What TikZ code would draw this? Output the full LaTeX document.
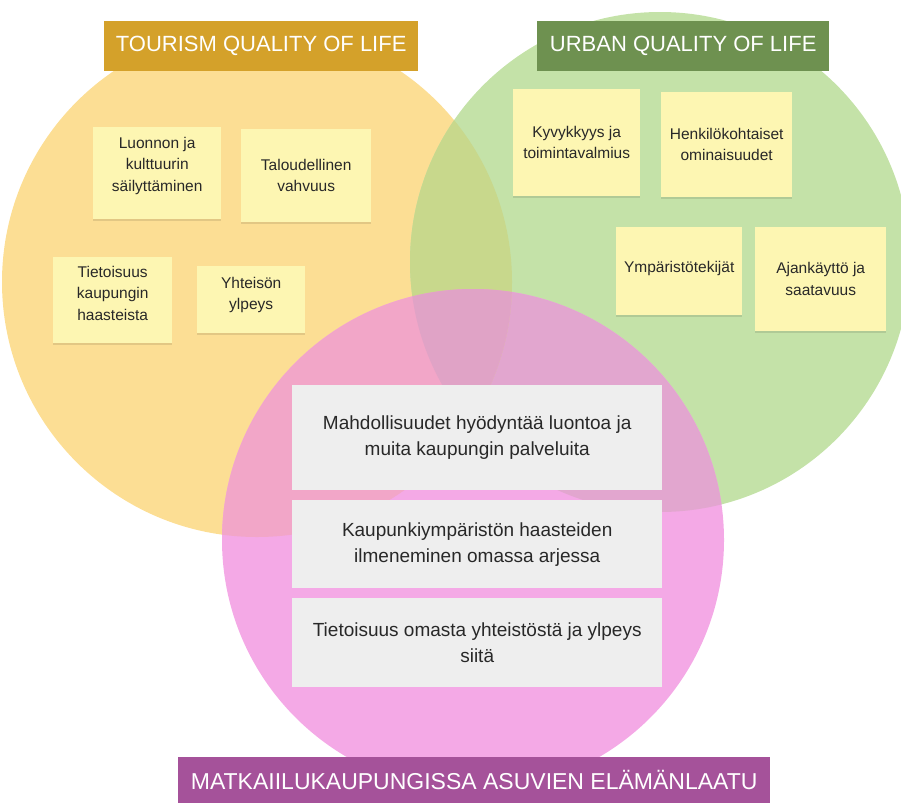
\documentclass[tikz,border=0pt]{standalone}
\usepackage{fontspec}
\setmainfont{Liberation Sans}
\usetikzlibrary{shadows}
\definecolor{tourism}{RGB}{252,222,148}
\definecolor{urban}{RGB}{196,226,168}
\definecolor{resident}{RGB}{244,169,230}
\definecolor{tourismurban}{RGB}{200,216,140}
\definecolor{tourismresident}{RGB}{242,166,200}
\definecolor{urbanresident}{RGB}{226,166,207}
\definecolor{allthree}{RGB}{224,163,198}
\definecolor{tourismtitle}{RGB}{212,161,42}
\definecolor{urbantitle}{RGB}{110,145,80}
\definecolor{residenttitle}{RGB}{165,82,154}
\definecolor{sticky}{RGB}{253,246,178}
\definecolor{theme}{RGB}{238,238,238}
\definecolor{ink}{RGB}{40,40,40}
\newcommand{\liftednote}[2]{\raisebox{#1}[\height][\depth]{\begin{tabular}{@{}c@{}}#2\end{tabular}}}
\tikzstyle{title} = [text=white, anchor=north west, inner sep=0pt, font=\fontsize{22}{26}\selectfont]
\tikzstyle{note} = [fill=sticky, text=ink, align=center, anchor=north west, inner sep=0pt,
    font=\fontsize{15.5}{21.5}\selectfont,
    drop shadow={shadow xshift=0pt, shadow yshift=-1.5pt, fill=black, opacity=0.1}]
\tikzstyle{theme box} = [fill=theme, text=ink, align=center, anchor=north west, inner sep=0pt,
    minimum width=370pt, font=\fontsize{19}{26}\selectfont]

\begin{document}
\begin{tikzpicture}[x=1pt, y=-1pt]
    \useasboundingbox (0,0) rectangle (901,803);

    \coordinate (tourismcentre) at (257,282);
    \coordinate (urbancentre) at (660,262);
    \coordinate (residentcentre) at (473,540);

    \fill[tourism] (tourismcentre) circle[radius=255pt];
    \fill[urban] (urbancentre) circle[radius=250pt];
    \fill[resident] (residentcentre) circle[radius=251pt];
    \begin{scope}
        \clip (urbancentre) circle[radius=250pt];
        \fill[urbanresident] (residentcentre) circle[radius=251pt];
    \end{scope}
    \begin{scope}
        \clip (tourismcentre) circle[radius=255pt];
        \fill[tourismurban] (urbancentre) circle[radius=250pt];
        \fill[tourismresident] (residentcentre) circle[radius=251pt];
        \clip (urbancentre) circle[radius=250pt];
        \fill[allthree] (residentcentre) circle[radius=251pt];
    \end{scope}

    \node[title, fill=tourismtitle, minimum width=314pt, minimum height=50pt] (tourismhead) at (104,21)
        {TOURISM QUALITY OF LIFE};
    \node[title, fill=urbantitle, minimum width=292pt, minimum height=50pt] (urbanhead) at (537,21)
        {URBAN QUALITY OF LIFE};
    \node[title, fill=residenttitle, minimum width=592pt, minimum height=46pt,
        font=\fontsize{23}{27}\selectfont] (residenthead) at (178,757)
        {MATKAIILUKAUPUNGISSA ASUVIEN ELÄMÄNLAATU};

    \node[note, minimum width=128pt, minimum height=92pt] (luonnon) at (93,127)
        {\liftednote{8pt}{Luonnon ja\\kulttuurin\\säilyttäminen}};
    \node[note, minimum width=130pt, minimum height=93pt] (talous) at (241,129)
        {Taloudellinen\\vahvuus};
    \node[note, minimum width=119pt, minimum height=86pt] (tietoisuus) at (53,257)
        {\liftednote{6pt}{Tietoisuus\\kaupungin\\haasteista}};
    \node[note, minimum width=108pt, minimum height=67pt] (ylpeys) at (197,266)
        {\liftednote{5pt}{Yhteisön\\ylpeys}};

    \node[note, minimum width=127pt, minimum height=107pt] (kyvykkyys) at (513,89)
        {Kyvykkyys ja\\toimintavalmius};
    \node[note, minimum width=131pt, minimum height=105pt] (ominaisuudet) at (661,92)
        {Henkilökohtaiset\\ominaisuudet};
    \node[note, minimum width=126pt, minimum height=88pt] (ymparisto) at (616,227)
        {\liftednote{3pt}{Ympäristötekijät}};
    \node[note, minimum width=131pt, minimum height=104pt] (ajankaytto) at (755,227)
        {Ajankäyttö ja\\saatavuus};

    \node[theme box, minimum height=105pt] (palvelut) at (292,385)
        {Mahdollisuudet hyödyntää luontoa ja\\muita kaupungin palveluita};
    \node[theme box, minimum height=88pt] (arki) at (292,500)
        {Kaupunkiympäristön haasteiden\\ilmeneminen omassa arjessa};
    \node[theme box, minimum height=89pt] (yhteiso) at (292,598)
        {Tietoisuus omasta yhteistöstä ja ylpeys\\siitä};
\end{tikzpicture}
\end{document}
